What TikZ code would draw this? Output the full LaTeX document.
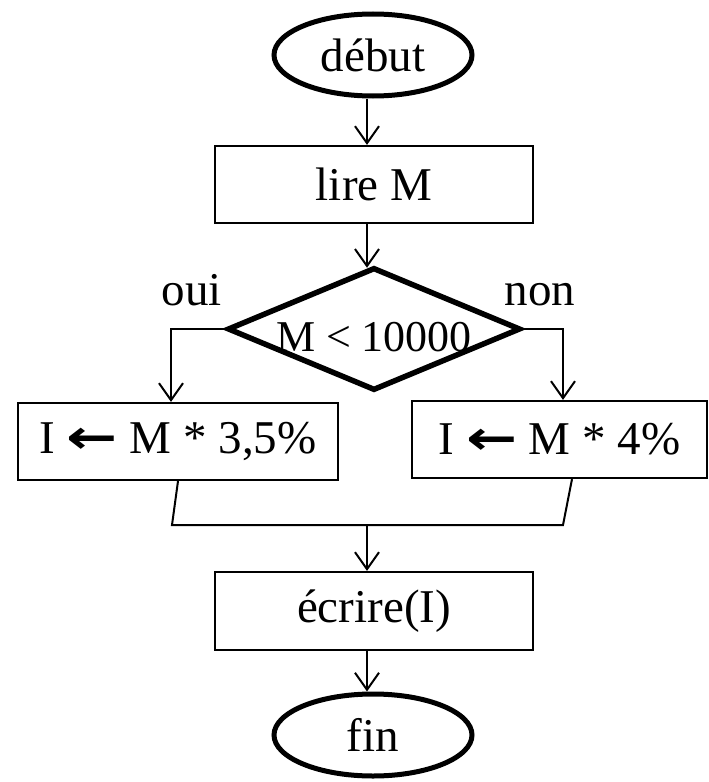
\documentclass[tikz,border=0pt]{standalone}
\usepackage{fontspec}
\usepackage{graphicx}
\setmainfont{Liberation Serif}
\newfontfamily\arrfont{DejaVu Sans}
\usetikzlibrary{shapes.geometric,arrows.meta}
\begin{document}
\begin{tikzpicture}[x=1bp,y=-1bp,
  txt/.style={font=\fontsize{47bp}{56bp}\selectfont},
  box/.style={txt,draw,line width=2.2bp,rectangle,inner sep=0pt},
  term/.style={txt,draw,line width=5bp,ellipse,inner sep=0pt,minimum width=198bp,minimum height=82bp},
  decision/.style={draw,line width=5.5bp,diamond,inner sep=0pt,shape aspect=2.37,minimum width=293bp,minimum height=123bp},
  lbl/.style={txt,inner sep=0pt,anchor=base},
  conn/.style={line width=2bp},
  arr/.style={conn,-{Straight Barb[length=17bp,width=24bp]}}]
\useasboundingbox (0,0) rectangle (709,782);
\newcommand{\larr}{\scalebox{1.3}[1]{\arrfont\bfseries ←}}
% nodes
\node[term] (beg) at (373,55) {début};
\node[box,minimum width=318bp,minimum height=77bp] (lire) at (374,184.5) {lire M};
\node[decision] (dec) at (374,329) {};
\node[inner sep=0pt,font=\fontsize{44bp}{52bp}\selectfont] (dect) at ([yshift=-8bp]dec.center) {M < 10000};
\node[lbl] (oui) at (192,305) {oui};
\node[lbl] (non) at (540,305) {non};
\node[box,minimum width=320bp,minimum height=77bp] (bl) at (178,441.5) {I \larr{} M * 3,5\%};
\node[box,minimum width=295bp,minimum height=77bp] (br) at (559.5,439.5) {I \larr{} M * 4\%};
\node[box,minimum width=318bp,minimum height=78bp] (ecr) at (374,611) {écrire(I)};
\node[term] (fin) at (373,735) {fin};
% axis and junction coordinates
\coordinate (ax) at (367,0);
\coordinate (jl) at (172,525);
\coordinate (jr) at (563,525);
\coordinate (jm) at (367,525);
\coordinate (bla) at (178,0);
\coordinate (bra) at (572,0);
\coordinate (la) at (171,0);
\coordinate (ra) at (563,0);
% connectors
\draw[arr] (beg.south -| ax) -- (lire.north -| ax);
\draw[arr] (lire.south -| ax) -- ([yshift=-3bp]dec.north -| ax);
\draw[arr] (dec.west) -- (dec.west -| la) -- (bl.north -| la);
\draw[arr] (dec.east) -- (dec.east -| ra) -- (br.north -| ra);
\draw[conn] (bl.south -| bla) -- (jl) -- (jr) -- (br.south -| bra);
\draw[arr] (jm) -- (ecr.north -| ax);
\draw[arr] (ecr.south -| ax) -- (fin.north -| ax);
\end{tikzpicture}
\end{document}
